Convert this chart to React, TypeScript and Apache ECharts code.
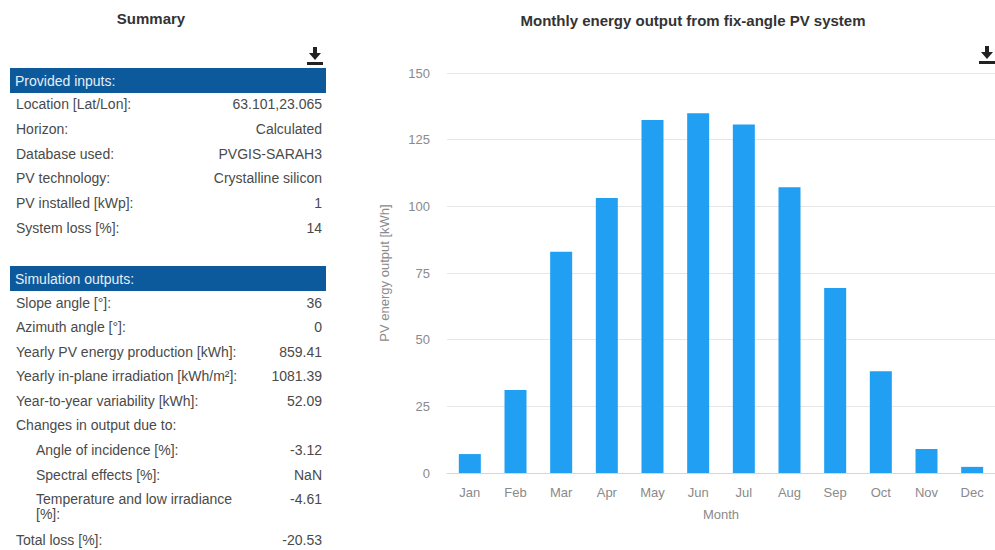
import React, { useEffect, useRef } from "react";
import * as echarts from "echarts";

const months = ["Jan", "Feb", "Mar", "Apr", "May", "Jun", "Jul", "Aug", "Sep", "Oct", "Nov", "Dec"];
const energy = [7.1, 31.1, 83.0, 103.1, 132.4, 134.9, 130.7, 107.2, 69.4, 38.2, 9.0, 2.3];

const inputRows: [string, string][] = [
  ["Location [Lat/Lon]:", "63.101,23.065"],
  ["Horizon:", "Calculated"],
  ["Database used:", "PVGIS-SARAH3"],
  ["PV technology:", "Crystalline silicon"],
  ["PV installed [kWp]:", "1"],
  ["System loss [%]:", "14"],
];

const outputRows: [string, string, boolean][] = [
  ["Slope angle [°]:", "36", false],
  ["Azimuth angle [°]:", "0", false],
  ["Yearly PV energy production [kWh]:", "859.41", false],
  ["Yearly in-plane irradiation [kWh/m²]:", "1081.39", false],
  ["Year-to-year variability [kWh]:", "52.09", false],
  ["Changes in output due to:", "", false],
  ["Angle of incidence [%]:", "-3.12", true],
  ["Spectral effects [%]:", "NaN", true],
  ["Temperature and low irradiance\n[%]:", "-4.61", true],
  ["Total loss [%]:", "-20.53", false],
];

const FONT = "'Liberation Sans', Arial, Helvetica, sans-serif";
const TXT = "#4a4a4a";

function downloadIcon(cx: number, top: number) {
  return {
    type: "group",
    children: [
      { type: "rect", shape: { x: cx - 2, y: top, width: 4, height: 7 }, style: { fill: "#222" } },
      { type: "polygon", shape: { points: [[cx - 6, top + 6], [cx + 6, top + 6], [cx, top + 13]] }, style: { fill: "#222" } },
      { type: "rect", shape: { x: cx - 8, y: top + 15, width: 16, height: 3 }, style: { fill: "#222" } },
    ],
  };
}

export default function App() {
  const ref = useRef<HTMLDivElement>(null);
  useEffect(() => {
    document.body.style.margin = "0";
    const chart = echarts.init(ref.current!, undefined, { renderer: "svg" });
    const graphics: any[] = [];
    const txt = (x: number, y: number, text: string, align: string) => ({
      type: "text",
      x,
      y,
      style: { text, fontFamily: FONT, fontSize: 14, fill: TXT, align, verticalAlign: "middle" },
    });
    graphics.push({
      type: "text",
      x: 151,
      y: 18,
      style: { text: "Summary", fontFamily: FONT, fontSize: 15, fontWeight: "bold", fill: "#333", align: "center", verticalAlign: "middle" },
    });
    graphics.push(downloadIcon(315, 47));
    graphics.push(downloadIcon(987, 46));
    const header = (y: number, text: string) => {
      graphics.push({ type: "rect", shape: { x: 10, y, width: 316, height: 25 }, style: { fill: "#0c5a9b" } });
      graphics.push({
        type: "text",
        x: 15,
        y: y + 12.5,
        style: { text, fontFamily: FONT, fontSize: 14, fill: "#e6eef7", align: "left", verticalAlign: "middle" },
      });
    };
    header(68, "Provided inputs:");
    inputRows.forEach(([l, v], i) => {
      const y = 104 + i * 24.8;
      graphics.push(txt(16, y, l, "left"));
      graphics.push(txt(322, y, v, "right"));
    });
    header(266, "Simulation outputs:");
    const outY = [303, 327, 352, 376, 401, 425, 450, 475, 499, 540];
    outputRows.forEach(([l, v, indent], i) => {
      const y = outY[i];
      const x = indent ? 36 : 16;
      const lines = l.split("\n");
      lines.forEach((line, k) => graphics.push(txt(x, y + k * 15, line, "left")));
      if (v) graphics.push(txt(322, y, v, "right"));
    });

    chart.setOption({
      animation: false,
      title: {
        text: "Monthly energy output from fix-angle PV system",
        left: 688,
        top: 8,
        textAlign: "center",
        textStyle: { fontFamily: FONT, fontSize: 15, fontWeight: "bold", color: "#333" },
      },
      grid: { left: 447, right: -4, top: 73, bottom: 77, containLabel: false },
      xAxis: {
        type: "category",
        data: months,
        name: "Month",
        nameLocation: "middle",
        nameGap: 35,
        nameTextStyle: { fontFamily: FONT, fontSize: 13, color: "#8a8a8a" },
        axisLine: { lineStyle: { color: "#ccd6eb" } },
        axisTick: { length: 9, lineStyle: { color: "#ccd6eb" } },
        axisLabel: { fontFamily: FONT, fontSize: 13, color: "#8a8a8a", margin: 13 },
      },
      yAxis: {
        type: "value",
        min: 0,
        max: 150,
        interval: 25,
        name: "PV energy output [kWh]",
        nameLocation: "middle",
        nameGap: 56,
        nameTextStyle: { fontFamily: FONT, fontSize: 13, color: "#8a8a8a" },
        axisLine: { show: false },
        axisTick: { show: false },
        axisLabel: { fontFamily: FONT, fontSize: 13, color: "#8a8a8a", margin: 17 },
        splitLine: { lineStyle: { color: "#e6e6e6" } },
      },
      series: [
        {
          type: "bar",
          data: energy,
          barWidth: 22,
          itemStyle: { color: "#21a0f3" },
        },
      ],
      graphic: graphics,
    });
    return () => chart.dispose();
  }, []);
  return <div ref={ref} style={{ position: "absolute", left: 0, top: 0, width: 995, height: 550 }} />;
}
